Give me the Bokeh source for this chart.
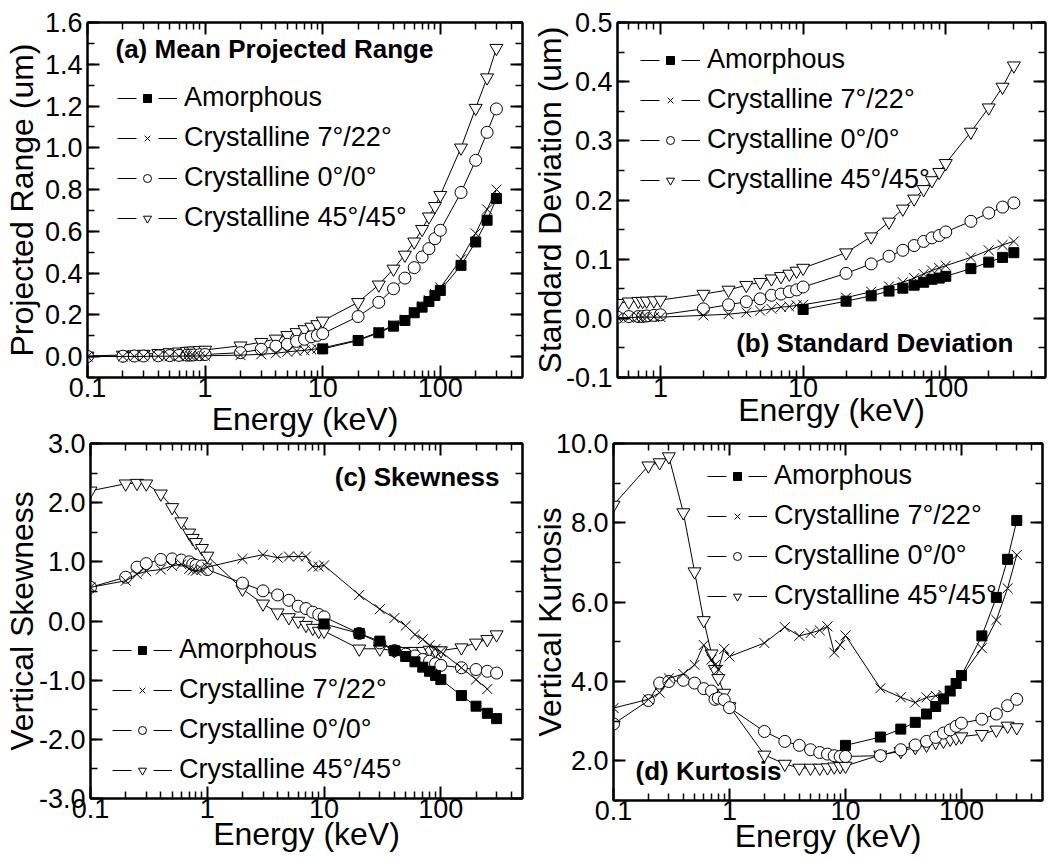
from bokeh.plotting import figure
from bokeh.layouts import row, column
from bokeh.models import (LogAxis, LinearAxis, FixedTicker, SingleIntervalTicker,
                          NumeralTickFormatter, CustomJSTickFormatter, Range1d, Legend,
                          LegendItem, Label, ColumnDataSource)
from bokeh.embed import file_html
from bokeh.resources import INLINE

NAN = float("nan")

# ---------------- data ----------------
energy_cr = [0.1, 0.2, 0.25, 0.3, 0.4, 0.5, 0.6, 0.7, 0.75, 0.8, 0.9, 1,
             2, 3, 4, 5, 6, 7, 8, 9, 10, 20, 30, 40, 50, 60, 70, 80, 90, 100,
             150, 200, 250, 300]
energy_am = [10, 20, 30, 40, 50, 60, 70, 80, 90, 100, 150, 200, 250, 300]

x_major_ticks = [0.1, 1, 10, 100]
x_minor_ticks = [0.2, 0.3, 0.4, 0.5, 0.6, 0.7, 0.8, 0.9,
                 2, 3, 4, 5, 6, 7, 8, 9, 20, 30, 40, 50, 60, 70, 80, 90,
                 200, 300, 400]

series_names = ["Amorphous", "Crystalline 7\u00b0/22\u00b0",
                "Crystalline 0\u00b0/0\u00b0", "Crystalline 45\u00b0/45\u00b0"]

# (a) mean projected range (um)
range_amorphous = [0.037, 0.077, 0.114, 0.146, 0.173, 0.210, 0.237, 0.264, 0.293, 0.317,
                   0.437, 0.549, 0.653, 0.757]
range_7_22 = [0.000, 0.001, 0.001, 0.001, 0.002, 0.002, 0.002, 0.003, 0.003, 0.003, 0.003, 0.004,
              0.007, 0.011, 0.016, 0.023, 0.027, 0.030, 0.034, 0.038, 0.042,
              0.080, 0.118, 0.150, 0.178, 0.213, 0.240, 0.270, 0.300, 0.330,
              0.466, 0.590, 0.705, 0.800]
range_0_0 = [0.001, 0.002, 0.003, 0.003, 0.004, 0.005, 0.006, 0.007, 0.007, 0.008, 0.009, 0.010,
             0.019, 0.035, 0.050, 0.059, 0.073, 0.083, 0.095, 0.102, 0.110,
             0.192, 0.260, 0.325, 0.376, 0.426, 0.477, 0.517, 0.565, 0.605,
             0.786, 0.940, 1.074, 1.186]
range_45_45 = [0.003, 0.008, 0.010, 0.012, 0.016, 0.020, 0.023, 0.026, 0.027, 0.028, 0.030, 0.032,
               0.052, 0.069, 0.085, 0.102, 0.116, 0.130, 0.142, 0.154, 0.171,
               0.260, 0.344, 0.420, 0.487, 0.550, 0.610, 0.670, 0.720, 0.773,
               1.000, 1.190, 1.336, 1.477]

# (b) standard deviation (um)
std_amorphous = [0.015, 0.029, 0.038, 0.046, 0.051, 0.056, 0.061, 0.066, 0.068, 0.071,
                 0.084, 0.095, 0.103, 0.111]
std_7_22 = [0.000, 0.001, 0.001, 0.001, 0.001, 0.001, 0.001, 0.002, 0.002, 0.002, 0.002, 0.002,
            0.005, 0.007, 0.010, 0.013, 0.016, 0.019, 0.020, 0.022, 0.023,
            0.035, 0.045, 0.054, 0.061, 0.068, 0.075, 0.081, 0.085, 0.089,
            0.103, 0.115, 0.124, 0.130]
std_0_0 = [0.001, 0.001, 0.002, 0.002, 0.002, 0.002, 0.003, 0.003, 0.003, 0.004, 0.005, 0.006,
           0.016, 0.023, 0.028, 0.033, 0.039, 0.041, 0.045, 0.048, 0.053,
           0.076, 0.092, 0.105, 0.115, 0.123, 0.130, 0.136, 0.140, 0.146,
           0.164, 0.178, 0.188, 0.195]
std_45_45 = [0.020, 0.022, 0.023, 0.024, 0.025, 0.0255, 0.028, 0.029, 0.029, 0.0295, 0.030, 0.031,
             0.041, 0.048, 0.056, 0.061, 0.067, 0.071, 0.075, 0.080, 0.085,
             0.111, 0.138, 0.163, 0.185, 0.202, 0.218, 0.233, 0.247, 0.262,
             0.315, 0.356, 0.391, 0.427]

# (c) vertical skewness
skew_amorphous = [-0.05, -0.21, -0.34, -0.50, -0.60, -0.69, -0.78, -0.85, -0.92, -0.99,
                  -1.26, -1.44, -1.56, -1.65]
skew_7_22 = [0.57, 0.68, 0.79, 0.84, 0.87, 0.93, 0.96, 0.88, 0.86, 0.85, 0.87, 0.91,
             1.05, 1.12, 1.07, 1.09, 1.09, 1.09, 0.92, 0.92, 0.94,
             0.44, 0.20, 0.05, -0.08, -0.23, -0.31, -0.41, -0.47, -0.52,
             -0.79, -0.99, -1.15, NAN]
skew_0_0 = [0.57, 0.74, 0.91, 0.97, 1.04, 1.05, 1.03, 1.00, 0.96, 0.94, 0.93, 0.87,
            0.64, 0.51, 0.44, 0.35, 0.25, 0.21, 0.15, 0.11, 0.07,
            -0.21, -0.37, -0.50, -0.56, -0.59, -0.65, -0.68, -0.72, -0.75,
            -0.79, -0.82, -0.85, -0.88]
skew_45_45 = [2.20, 2.32, 2.33, 2.32, 2.15, 1.92, 1.68, 1.49, 1.40, 1.33, 1.23, 1.10,
              0.54, 0.29, 0.14, 0.06, 0.00, -0.07, -0.12, -0.17, -0.17,
              -0.47, -0.47, -0.50, -0.51, -0.51, -0.51, -0.49, -0.50, -0.50,
              -0.45, -0.37, -0.31, -0.23]

# (d) vertical kurtosis
kurt_amorphous = [2.39, 2.60, 2.80, 2.97, 3.18, 3.37, 3.56, 3.76, 3.95, 4.15,
                  5.15, 6.12, 7.08, 8.06]
kurt_7_22 = [3.33, 3.55, 3.72, 4.08, 4.19, 4.42, 4.92, 4.55, 4.42, 4.30, 4.82, 4.63,
             4.97, 5.37, 5.15, 5.22, 5.29, 5.39, 4.73, 4.92, 5.16,
             3.83, 3.60, 3.47, 3.60, 3.64, 3.66, 3.75, 3.95, 4.13,
             4.84, 5.55, 6.35, 7.19]
kurt_0_0 = [2.93, 3.52, 3.96, 4.00, 4.03, 3.96, 3.82, 3.76, 3.55, 3.58, 3.54, 3.34,
            2.74, 2.49, 2.39, 2.28, 2.21, 2.17, 2.13, 2.11, 2.11,
            2.13, 2.28, 2.40, 2.49, 2.59, 2.70, 2.78, 2.87, 2.95,
            3.05, 3.18, 3.39, 3.55]
kurt_45_45 = [8.45, 9.44, 9.52, 9.67, 8.26, 6.77, 5.54, 4.70, 4.31, 4.08, 3.71, 3.37,
              2.15, 1.92, 1.82, 1.82, 1.82, 1.83, 1.85, 1.86, 1.87,
              2.15, 2.24, 2.34, 2.40, 2.47, 2.50, 2.55, 2.58, 2.61,
              2.67, 2.78, 2.88, 2.84]

# ---------------- styling ----------------
FONT = "Liberation Sans"
TICK_PX = "27px"
AXIS_PX = "32px"
LEG_PX = "27px"
TITLE_PX = "26px"

MARKERS = [  # per series: marker, size, fill
    ("square", 10, "black"),
    ("x", 14, None),
    ("circle", 12, "white"),
    ("inverted_triangle", 13, "white"),
]

xfmt_code = "return tick < 1 ? tick.toFixed(1) : tick.toFixed(0);"


def style_axis(ax, label_px=TICK_PX):
    ax.axis_line_width = 2
    ax.axis_line_color = "black"
    ax.major_tick_in = 12
    ax.major_tick_out = 0
    ax.minor_tick_in = 7
    ax.minor_tick_out = 0
    ax.major_tick_line_width = 2
    ax.minor_tick_line_width = 1.5
    ax.major_tick_line_color = "black"
    ax.minor_tick_line_color = "black"
    ax.major_label_text_font = FONT
    ax.major_label_text_font_size = label_px
    ax.major_label_text_color = "black"
    ax.axis_label_text_font = FONT
    ax.axis_label_text_font_size = AXIS_PX
    ax.axis_label_text_font_style = "normal"
    ax.axis_label_text_color = "black"


def make_panel(fw, fh, borders, x_start, y_rng, y_interval, ylabel, ylab_standoff,
               xlab_standoff, ys, leg_xy, title, title_xy, title_align, transparent=False):
    bl, br, bt, bb = borders
    p = figure(frame_width=fw, frame_height=fh, x_axis_type="log",
               x_range=Range1d(x_start, 500), y_range=Range1d(*y_rng),
               output_backend="svg", toolbar_location=None,
               min_border_left=bl, min_border_right=br,
               min_border_top=bt, min_border_bottom=bb,
               outline_line_color="black", outline_line_width=2,
               background_fill_color="white")
    if transparent:
        p.border_fill_color = None
    p.xgrid.visible = False
    p.ygrid.visible = False

    xt = FixedTicker(ticks=x_major_ticks, minor_ticks=x_minor_ticks)
    yt = SingleIntervalTicker(interval=y_interval, num_minor_ticks=2)

    xa = p.xaxis[0]
    xa.ticker = xt
    xa.formatter = CustomJSTickFormatter(code=xfmt_code)
    style_axis(xa)
    xa.major_label_standoff = 0
    xa.axis_label = "Energy (keV)"
    xa.axis_label_standoff = xlab_standoff

    ya = p.yaxis[0]
    ya.ticker = yt
    ya.formatter = NumeralTickFormatter(format="0.0")
    style_axis(ya)
    ya.major_label_standoff = 5
    ya.axis_label = ylabel
    ya.axis_label_standoff = ylab_standoff

    blank = CustomJSTickFormatter(code="return '';")
    top = LogAxis(ticker=xt, formatter=blank)
    style_axis(top, "0px")
    top.major_label_standoff = 0
    p.add_layout(top, "above")
    right = LinearAxis(ticker=yt, formatter=blank)
    style_axis(right, "0px")
    right.major_label_standoff = 0
    p.add_layout(right, "right")

    xs = [energy_am, energy_cr, energy_cr, energy_cr]
    items = [None] * 4
    for i in [3, 2, 1, 0]:
        marker, size, fill = MARKERS[i]
        src = ColumnDataSource(data=dict(x=xs[i], y=ys[i]))
        lr = p.line("x", "y", source=src, line_color="black", line_width=1)
        # legend-only white patch that opens a gap in the legend line around the symbol
        gap = p.scatter(x=[NAN], y=[NAN], marker="square", size=size,
                        fill_color="white", line_color="white", line_width=14)
        kw = dict(marker=marker, size=size, line_color="black", line_width=1)
        if fill is None:
            kw["fill_alpha"] = 0
        else:
            kw["fill_color"] = fill
        mr = p.scatter("x", "y", source=src, **kw)
        items[i] = LegendItem(label=series_names[i], renderers=[lr, gap, mr])

    legend = Legend(items=items, location=leg_xy, orientation="vertical",
                    glyph_width=60, glyph_height=20, label_standoff=7,
                    spacing=9, padding=0, margin=0, label_height=31,
                    label_text_font=FONT, label_text_font_size=LEG_PX,
                    label_text_color="black",
                    background_fill_alpha=0, border_line_alpha=0)
    p.add_layout(legend)

    p.add_layout(Label(x=title_xy[0], y=title_xy[1], x_units="screen", y_units="screen",
                       text=title, text_font=FONT, text_font_size=TITLE_PX,
                       text_font_style="bold", text_color="black",
                       text_align=title_align, text_baseline="alphabetic"))
    return p


# borders: (left, right, top, bottom) in px; the page itself has no margin
pa = make_panel(435, 355, (87, 6, 20, 68), 0.1, (-0.1, 1.6), 0.2,
                "Projected Range (um)", 2, 1,
                [range_amorphous, range_7_22, range_0_0, range_45_45],
                (30, 144), "(a) Mean Projected Range", (28, 329), "left")
pb = make_panel(428, 355, (86, 6, 22, 58), 0.5, (-0.1, 0.5), 0.1,
                "Standard Deviation (um)", -5, -8,
                [std_amorphous, std_7_22, std_0_0, std_45_45],
                (23, 182), "(b) Standard Deviation", (396, 35), "right")
pc = make_panel(432, 355, (90, 6, 13, 61), 0.1, (-3.0, 3.0), 1.0,
                "Vertical Skewness", -4, -5,
                [skew_amorphous, skew_7_22, skew_0_0, skew_45_45],
                (22, 13), "(c) Skewness", (409, 322), "right", transparent=True)
pd_ = make_panel(429, 357, (85, 6, 11, 61), 0.1, (1.0, 10.0), 2.0,
                 "Vertical Kurtosis", -15, -5,
                 [kurt_amorphous, kurt_7_22, kurt_0_0, kurt_45_45],
                 (94, 189), "(d) Kurtosis", (22, 30), "left", transparent=True)

layout = column(row(pa, pb), row(pc, pd_, margin=(-13, 0, 0, 0)))

open("out.html", "w").write(file_html(layout, INLINE))
